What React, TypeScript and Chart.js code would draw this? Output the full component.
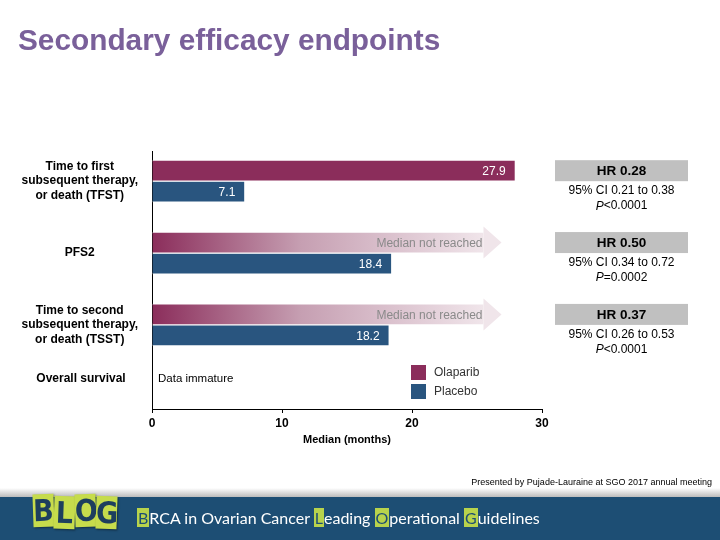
import React, { useEffect, useRef } from 'react';
import { Chart, registerables } from 'chart.js';

Chart.register(...registerables);

const categories = ['TFST', 'PFS2', 'TSST'];
const categoryLabels = [
  ['Time to first', 'subsequent therapy,', 'or death (TFST)'],
  ['PFS2'],
  ['Time to second', 'subsequent therapy,', 'or death (TSST)'],
];
const olaparibMonths = [27.9, 25.5, 25.5];
const olaparibNotReached = [false, true, true];
const placeboMonths = [7.1, 18.4, 18.2];
const hazardRatios = ['HR 0.28', 'HR 0.50', 'HR 0.37'];
const confidenceIntervals = ['95% CI 0.21 to 0.38', '95% CI 0.34 to 0.72', '95% CI 0.26 to 0.53'];
const pValues = ['<0.0001', '=0.0002', '<0.0001'];
const xTickValues = [0, 10, 20, 30];
const seriesNames = ['Olaparib', 'Placebo'];
const osLabel = 'Overall survival';
const osNote = 'Data immature';
const notReachedText = 'Median not reached';
const titleText = 'Secondary efficacy endpoints';
const creditText = 'Presented by Pujade-Lauraine at SGO 2017 annual meeting';
const logoLetters = ['B', 'L', 'O', 'G'];
const footerParts: [string, boolean][] = [
  ['B', true], ['RCA in Ovarian Cancer ', false], ['L', true], ['eading ', false],
  ['O', true], ['perational ', false], ['G', true], ['uidelines', false],
];

const OLAPARIB = '#8b2d5b';
const PLACEBO = '#29557f';
const FONT = "'Liberation Sans', Arial, sans-serif";

const annotationPlugin = {
  id: 'annotations',
  afterDatasetsDraw(chart: any) {
    const { ctx, chartArea, scales } = chart;
    const xs = scales.x;
    const ys = scales.y;
    const olaMeta = chart.getDatasetMeta(0);
    const plaMeta = chart.getDatasetMeta(1);
    ctx.save();
    olaMeta.data.forEach((bar: any, i: number) => {
      if (!olaparibNotReached[i]) return;
      ctx.fillStyle = '#f0e5ea';
      ctx.beginPath();
      ctx.moveTo(bar.x, bar.y - 16);
      ctx.lineTo(bar.x + 18, bar.y);
      ctx.lineTo(bar.x, bar.y + 16);
      ctx.closePath();
      ctx.fill();
    });
    ctx.font = `12px ${FONT}`;
    ctx.textBaseline = 'middle';
    ctx.textAlign = 'right';
    olaMeta.data.forEach((bar: any, i: number) => {
      if (olaparibNotReached[i]) {
        ctx.fillStyle = '#8a8a8a';
        ctx.fillText(notReachedText, bar.x - 1, bar.y + 1);
      } else {
        ctx.fillStyle = '#ffffff';
        ctx.fillText(olaparibMonths[i].toFixed(1), bar.x - 9, bar.y + 1);
      }
    });
    plaMeta.data.forEach((bar: any, i: number) => {
      ctx.fillStyle = '#ffffff';
      ctx.fillText(placeboMonths[i].toFixed(1), bar.x - 9, bar.y + 1);
    });

    const boxLeft = chartArea.right + 13;
    const boxW = 133;
    const cx = boxLeft + boxW / 2;
    categories.forEach((_, i) => {
      const cy = ys.getPixelForValue(i);
      ctx.fillStyle = '#c0c0c0';
      ctx.fillRect(boxLeft, cy - 21, boxW, 21);
      ctx.fillStyle = '#000';
      ctx.textAlign = 'center';
      ctx.font = `bold 13.5px ${FONT}`;
      ctx.fillText(hazardRatios[i], cx, cy - 10);
      ctx.font = `12px ${FONT}`;
      ctx.fillText(confidenceIntervals[i], cx, cy + 9.5);
      ctx.font = `italic 12px ${FONT}`;
      const wP = ctx.measureText('P').width;
      ctx.font = `12px ${FONT}`;
      const wRest = ctx.measureText(pValues[i]).width;
      const start = cx - (wP + wRest) / 2;
      ctx.textAlign = 'left';
      ctx.font = `italic 12px ${FONT}`;
      ctx.fillText('P', start, cy + 25);
      ctx.font = `12px ${FONT}`;
      ctx.fillText(pValues[i], start + wP, cy + 25);
    });

    const osY = chartArea.bottom - 30;
    ctx.textAlign = 'center';
    ctx.font = `bold 12px ${FONT}`;
    ctx.fillStyle = '#000';
    ctx.fillText(osLabel, (ys.left + ys.right) / 2 + 1, osY);
    ctx.textAlign = 'left';
    ctx.font = `11.5px ${FONT}`;
    ctx.fillText(osNote, chartArea.left + 6, osY);

    const lx = xs.getPixelForValue(20) - 1;
    const colors = [OLAPARIB, PLACEBO];
    const tops = [chartArea.bottom - 44, chartArea.bottom - 25];
    seriesNames.forEach((name, k) => {
      ctx.fillStyle = colors[k];
      ctx.fillRect(lx, tops[k], 15, 15);
      ctx.fillStyle = '#333';
      ctx.font = `12px ${FONT}`;
      ctx.textAlign = 'left';
      ctx.fillText(name, lx + 23, tops[k] + 8);
    });
    ctx.restore();
  },
};

export default function App() {
  const canvasRef = useRef<HTMLCanvasElement | null>(null);

  useEffect(() => {
    const canvas = canvasRef.current;
    if (!canvas) return;
    const chart = new Chart(canvas, {
      type: 'bar',
      data: {
        datasets: [
          {
            label: seriesNames[0],
            data: olaparibMonths.map((v, i) => ({ x: v, y: i })),
            backgroundColor: (c: any) => {
              const i = c.dataIndex;
              if (!olaparibNotReached[i]) return OLAPARIB;
              const area = c.chart.chartArea;
              const xs = c.chart.scales.x;
              if (!area || !xs) return OLAPARIB;
              const end = xs.getPixelForValue(olaparibMonths[i]);
              const g = c.chart.ctx.createLinearGradient(area.left, 0, end, 0);
              g.addColorStop(0, '#8b2d5b');
              g.addColorStop(0.45, '#c69fb2');
              g.addColorStop(1, '#f0e5ea');
              return g;
            },
            borderColor: '#ffffff',
            borderWidth: { top: 1, bottom: 1, left: 0, right: 0 },
            borderSkipped: 'start',
            barThickness: 21,
          },
          {
            label: seriesNames[1],
            data: placeboMonths.map((v, i) => ({ x: v, y: i })),
            backgroundColor: PLACEBO,
            borderColor: '#ffffff',
            borderWidth: { top: 1, bottom: 1, left: 0, right: 0 },
            borderSkipped: 'start',
            barThickness: 21,
          },
        ],
      },
      options: {
        animation: false,
        responsive: false,
        indexAxis: 'y',
        layout: { padding: { top: 151, left: 8, right: 178, bottom: 93 } },
        plugins: {
          legend: { display: false },
          tooltip: { enabled: false },
          title: { display: false },
        },
        scales: {
          x: {
            type: 'linear',
            position: 'bottom',
            offset: false,
            min: 0,
            max: 30,
            afterBuildTicks: (scale: any) => {
              scale.ticks = xTickValues.map((v) => ({ value: v }));
            },
            afterFit: (scale: any) => {
              scale.height = 38;
            },
            grid: {
              display: true,
              offset: false,
              drawOnChartArea: false,
              drawTicks: true,
              tickLength: 4,
              color: '#000',
            },
            border: { display: true, color: '#000', width: 1 },
            ticks: {
              color: '#000',
              padding: 3,
              font: { family: FONT, size: 12, weight: 'bold' },
            },
            title: {
              display: true,
              text: 'Median (months)',
              color: '#000',
              padding: 0,
              font: { family: FONT, size: 11, weight: 'bold' },
            },
          },
          y: {
            type: 'linear',
            position: 'left',
            offset: false,
            reverse: true,
            min: -0.42,
            max: 3.17,
            afterBuildTicks: (scale: any) => {
              scale.ticks = categories.map((_, i) => ({ value: i }));
            },
            afterFit: (scale: any) => {
              scale.width = 144;
            },
            grid: { display: false, offset: false, drawTicks: false },
            border: { display: true, color: '#000', width: 1 },
            ticks: {
              color: '#000',
              padding: 14,
              crossAlign: 'center',
              font: { family: FONT, size: 12, weight: 'bold', lineHeight: 1.2 },
              callback: (_v: any, index: number) => categoryLabels[index],
            },
          },
        },
      },
      plugins: [annotationPlugin],
    } as any);
    return () => chart.destroy();
  }, []);

  return (
    <div style={{ position: 'absolute', left: 0, top: 0, width: 720, height: 540, overflow: 'hidden', background: '#fff' }}>
      <canvas ref={canvasRef} width={720} height={540} style={{ position: 'absolute', left: 0, top: 0, width: 720, height: 540 }} />
      <div
        style={{
          position: 'absolute', left: 18, top: 25, fontFamily: FONT, fontWeight: 'bold',
          fontSize: '29.8px', lineHeight: 1, color: '#7a609a', whiteSpace: 'nowrap',
        }}
      >
        {titleText}
      </div>
      <div style={{ position: 'absolute', left: 0, top: 488, width: 720, height: 9, background: 'linear-gradient(#ffffff, #bcbcbc)' }} />
      <div
        style={{
          position: 'absolute', right: 8, top: 476, fontFamily: FONT, fontSize: '9px',
          lineHeight: '12px', color: '#000', whiteSpace: 'nowrap',
        }}
      >
        {creditText}
      </div>
      <div style={{ position: 'absolute', left: 0, top: 497, width: 720, height: 43, background: '#1d4e74' }} />
      {logoLetters.map((l, k) => (
        <div
          key={l}
          style={{
            position: 'absolute', left: 33 + k * 21, top: 494 + (k % 2 === 0 ? 0 : 2), width: 21, height: 33,
            background: '#c6dc4c', color: '#1d3f5e', fontFamily: "'DejaVu Sans Condensed', 'Liberation Sans Narrow', sans-serif",
            fontWeight: 'bold', fontSize: '30px', lineHeight: '33px', textAlign: 'center',
            transform: `rotate(${k % 2 === 0 ? -2 : 2}deg)`, boxShadow: '1px 1px 2px rgba(0,0,0,0.4)',
          }}
        >
          {l}
        </div>
      ))}
      <div
        style={{
          position: 'absolute', left: 137, top: 508, fontFamily: 'Lato, sans-serif', fontSize: '16px',
          lineHeight: '20px', color: '#ffffff', whiteSpace: 'nowrap',
        }}
      >
        {footerParts.map(([t, hl], k) =>
          hl ? (
            <span key={k} style={{ background: '#b8d34c', color: '#1d4e74', padding: '0 1px' }}>{t}</span>
          ) : (
            <span key={k}>{t}</span>
          )
        )}
      </div>
    </div>
  );
}
